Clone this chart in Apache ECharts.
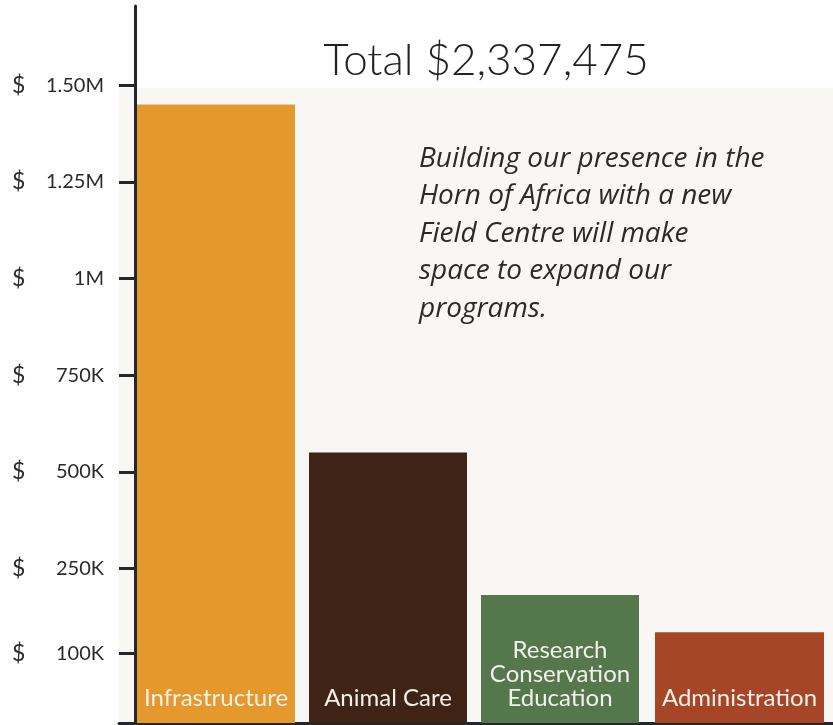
<!DOCTYPE html>
<html>
<head>
<meta charset="utf-8">
<script src="https://cdn.jsdelivr.net/npm/echarts@6/dist/echarts.min.js"></script>
<style>html,body{margin:0;padding:0;background:#fff}#c{width:833px;height:725px}</style>
</head>
<body>
<div id="c"></div>
<script>
// ---- data ----
var categories = ['Infrastructure', 'Animal Care', 'Research\nConservation\nEducation', 'Administration'];
var values = [1450000, 550000, 181000, 85000];
var barColors = ['#E5992C', '#3F2314', '#54774C', '#A64626'];
var tickValues = [1500000, 1250000, 1000000, 750000, 500000, 250000, 30000];
var tickLabels = ['1.50M', '1.25M', '1M', '750K', '500K', '250K', '100K'];
var titleText = 'Total $2,337,475';
var noteText = 'Building our presence in the\nHorn of Africa with a new\nField Centre will make\nspace to expand our\nprograms.';

var YMIN = -150000, YMAX = 1705000;   // axis floor sits below zero, as in the original
var FONT = 'Lato';
var AXIS_COLOR = '#23272b';

var chart = echarts.init(document.getElementById('c'), null, {renderer: 'canvas'});

function labelFor(v) {
  var i = tickValues.indexOf(v);
  return i >= 0 ? tickLabels[i] : '';
}

function items(vals, offset) {
  return vals.map(function (v, i) {
    return {value: v, itemStyle: {color: barColors[i + offset]}};
  });
}
// value part of each bar (0 -> value) and the part below zero down to the axis floor
var mainData = items(values.slice(0, 3), 0);
var adminData = items(values.slice(3), 3);
var mainFloor = items(values.slice(0, 3).map(function () { return YMIN; }), 0);
var adminFloor = items(values.slice(3).map(function () { return YMIN; }), 3);

var barLabel = {
  show: true,
  position: 'insideBottom',
  distance: 13,
  color: '#F3F0EA',
  fontFamily: FONT,
  fontWeight: 400,
  fontSize: 24,
  lineHeight: 24,
  formatter: function (p) { return p.name; }
};

var option = {
  backgroundColor: '#ffffff',
  animation: false,
  grid: [
    {left: 130, top: 6, width: 516, bottom: 2},
    {left: 655, top: 6, width: 169, bottom: 2},
    {left: 119, top: 88, right: 0, bottom: 2, show: true, backgroundColor: '#F8F7F3', borderWidth: 0, z: -1}
  ],
  xAxis: [
    {gridIndex: 0, type: 'category', data: categories.slice(0, 3), axisLine: {show: false}, axisTick: {show: false}, axisLabel: {show: false}},
    {gridIndex: 1, type: 'category', data: categories.slice(3), axisLine: {show: false}, axisTick: {show: false}, axisLabel: {show: false}},
    {gridIndex: 2, type: 'value', min: 0, max: 1, axisLine: {show: true, lineStyle: {color: AXIS_COLOR, width: 3}}, axisTick: {show: false}, axisLabel: {show: false}, splitLine: {show: false}}
  ],
  yAxis: [
    {
      gridIndex: 0, type: 'value', position: 'left', min: YMIN, max: YMAX, offset: -5,
      axisLine: {show: true, lineStyle: {color: AXIS_COLOR, width: 3}},
      axisTick: {show: true, inside: false, length: 16, lineStyle: {color: AXIS_COLOR, width: 3}, customValues: tickValues},
      axisLabel: {show: true, margin: 31, color: '#2a2a2a', fontFamily: FONT, fontSize: 20, customValues: tickValues, formatter: labelFor},
      splitLine: {show: false}
    },
    {
      gridIndex: 0, type: 'value', position: 'left', min: YMIN, max: YMAX, offset: -5,
      axisLine: {show: false}, axisTick: {show: false},
      axisLabel: {show: true, margin: 123, align: 'left', color: '#2a2a2a', fontFamily: FONT, fontSize: 23, customValues: tickValues, formatter: function () { return '$'; }},
      splitLine: {show: false}
    },
    {gridIndex: 1, type: 'value', min: YMIN, max: YMAX, show: false},
    {gridIndex: 2, type: 'value', min: 0, max: 1, show: false}
  ],
  series: [
    {type: 'bar', xAxisIndex: 0, yAxisIndex: 0, stack: 'm', data: mainData, barWidth: 158, z: 3},
    {type: 'bar', xAxisIndex: 0, yAxisIndex: 0, stack: 'm', data: mainFloor, barWidth: 158, label: barLabel, z: 3},
    {type: 'bar', xAxisIndex: 1, yAxisIndex: 2, stack: 'a', data: adminData, barWidth: 169, z: 3},
    {type: 'bar', xAxisIndex: 1, yAxisIndex: 2, stack: 'a', data: adminFloor, barWidth: 169, label: barLabel, z: 3}
  ],
  graphic: [
    {
      type: 'text', z: 10,
      style: {text: titleText, x: 486, y: 61, textAlign: 'center', textVerticalAlign: 'middle',
        font: '300 44px ' + FONT, fill: '#222222'}
    },
    {
      type: 'text', z: 10,
      style: {text: noteText, x: 419, y: 140, textAlign: 'left', textVerticalAlign: 'top',
        font: 'italic 400 28px "Open Sans"', lineHeight: 37.5, fill: '#2a2a2a'}
    }
  ]
};
chart.setOption(option);
</script>
</body>
</html>
